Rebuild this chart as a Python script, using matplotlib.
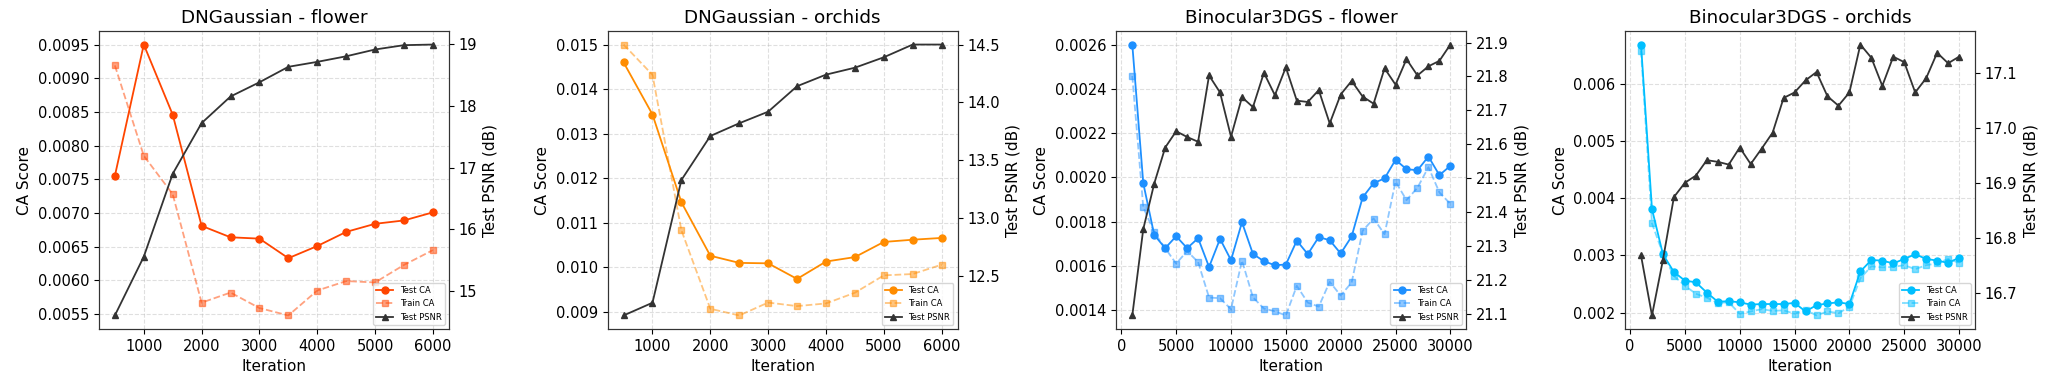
import matplotlib
matplotlib.use("Agg")
import matplotlib.pyplot as plt
import numpy as np

# ---------------- data ----------------
iters_dng = [500, 1000, 1500, 2000, 2500, 3000, 3500, 4000, 4500, 5000, 5500, 6000]
iters_bino = list(range(1000, 30001, 1000))

dng_flower_test_ca = [0.00755, 0.00950, 0.00846, 0.00681, 0.00664, 0.00662, 0.00633,
                      0.00651, 0.00672, 0.00684, 0.00689, 0.00701]
dng_flower_train_ca = [0.00919, 0.00785, 0.00728, 0.00567, 0.00582, 0.00559, 0.00548,
                       0.00585, 0.00599, 0.00597, 0.00623, 0.00645]
dng_flower_psnr = [14.61, 15.56, 16.90, 17.72, 18.15, 18.38, 18.63, 18.71, 18.80, 18.91,
                   18.98, 18.99]

dng_orchids_test_ca = [0.01460, 0.01343, 0.01146, 0.01026, 0.01010, 0.01009, 0.00974,
                       0.01013, 0.01023, 0.01057, 0.01062, 0.01066]
dng_orchids_train_ca = [0.01500, 0.01432, 0.01083, 0.00907, 0.00892, 0.00921, 0.00913,
                        0.00919, 0.00943, 0.00982, 0.00985, 0.01006]
dng_orchids_psnr = [12.16, 12.27, 13.33, 13.71, 13.82, 13.92, 14.14, 14.24, 14.30, 14.39,
                    14.50, 14.50]

bino_flower_test_ca = [0.002600, 0.001974, 0.001740, 0.001680, 0.001734, 0.001680, 0.001725,
                       0.001595, 0.001722, 0.001626, 0.001797, 0.001654, 0.001621, 0.001603,
                       0.001606, 0.001714, 0.001653, 0.001730, 0.001716, 0.001656, 0.001733,
                       0.001909, 0.001974, 0.001995, 0.002079, 0.002037, 0.002032, 0.002094,
                       0.002010, 0.002052]
bino_flower_train_ca = [0.002458, 0.001865, 0.001752, 0.001680, 0.001610, 0.001667, 0.001617,
                        0.001457, 0.001454, 0.001404, 0.001624, 0.001458, 0.001407, 0.001395,
                        0.001376, 0.001510, 0.001434, 0.001416, 0.001528, 0.001466, 0.001525,
                        0.001758, 0.001814, 0.001743, 0.001981, 0.001897, 0.001953, 0.002046,
                        0.001932, 0.001880]
bino_flower_psnr = [21.097, 21.351, 21.485, 21.591, 21.639, 21.622, 21.608, 21.803, 21.753,
                    21.623, 21.739, 21.710, 21.811, 21.745, 21.827, 21.729, 21.725, 21.760,
                    21.662, 21.747, 21.787, 21.741, 21.720, 21.824, 21.776, 21.851, 21.803,
                    21.830, 21.846, 21.894]

bino_orchids_test_ca = [0.00669, 0.00381, 0.00302, 0.00271, 0.00256, 0.00253, 0.00235,
                        0.00219, 0.00220, 0.00218, 0.00214, 0.00215, 0.00215, 0.00215,
                        0.00217, 0.00202, 0.00213, 0.00216, 0.00218, 0.00215, 0.00272,
                        0.00292, 0.00291, 0.00286, 0.00294, 0.00302, 0.00294, 0.00291,
                        0.00287, 0.00296]
bino_orchids_train_ca = [0.00658, 0.00356, 0.00303, 0.00264, 0.00247, 0.00233, 0.00226,
                         0.00217, 0.00218, 0.00198, 0.00202, 0.00206, 0.00203, 0.00204,
                         0.00198, 0.00205, 0.00195, 0.00202, 0.00199, 0.00210, 0.00260,
                         0.00281, 0.00279, 0.00280, 0.00283, 0.00276, 0.00283, 0.00286,
                         0.00294, 0.00287]
bino_orchids_psnr = [16.768, 16.659, 16.760, 16.874, 16.900, 16.913, 16.941, 16.938, 16.933,
                     16.964, 16.934, 16.962, 16.991, 17.054, 17.064, 17.086, 17.101, 17.057,
                     17.040, 17.064, 17.151, 17.127, 17.076, 17.129, 17.119, 17.064, 17.090,
                     17.136, 17.117, 17.129]

titles = ["DNGaussian - flower", "DNGaussian - orchids",
          "Binocular3DGS - flower", "Binocular3DGS - orchids"]
colors = ["#FF4500", "#FF8C00", "#1E90FF", "#00BFFF"]
psnr_color = "#333333"

panels = [
    (iters_dng, dng_flower_test_ca, dng_flower_train_ca, dng_flower_psnr),
    (iters_dng, dng_orchids_test_ca, dng_orchids_train_ca, dng_orchids_psnr),
    (iters_bino, bino_flower_test_ca, bino_flower_train_ca, bino_flower_psnr),
    (iters_bino, bino_orchids_test_ca, bino_orchids_train_ca, bino_orchids_psnr),
]

plt.rcParams['font.family'] = ['DejaVu Sans']
fig, axes = plt.subplots(1, 4, figsize=(20.53, 3.78), dpi=100)
fig.subplots_adjust(left=0.0482, right=0.962, top=0.918, bottom=0.1296, wspace=0.454)

for ax, (x, tca, trca, psnr), title, c in zip(axes, panels, titles, colors):
    l1, = ax.plot(x, tca, '-o', color=c, lw=1.3, ms=5, label='Test CA')
    l2, = ax.plot(x, trca, '--s', color=c, lw=1.3, ms=5, alpha=0.5, label='Train CA')
    ax.set_xlabel('Iteration', fontsize=11)
    ax.set_ylabel('CA Score', fontsize=11)
    ax.set_title(title, fontsize=13.2)
    ax.grid(True, linestyle='--', alpha=0.4)
    ax.tick_params(labelsize=10.5)
    ax2 = ax.twinx()
    l3, = ax2.plot(x, psnr, '-^', color=psnr_color, lw=1.3, ms=5, label='Test PSNR')
    ax2.set_ylabel('Test PSNR (dB)', fontsize=11)
    ax2.tick_params(labelsize=10.5)
    for a in (ax, ax2):
        for s in a.spines.values():
            s.set_color('#333333')
    ax2.legend([l1, l2, l3], ['Test CA', 'Train CA', 'Test PSNR'], loc='lower right',
               fontsize=6)

fig.savefig('out.png', dpi=100)
